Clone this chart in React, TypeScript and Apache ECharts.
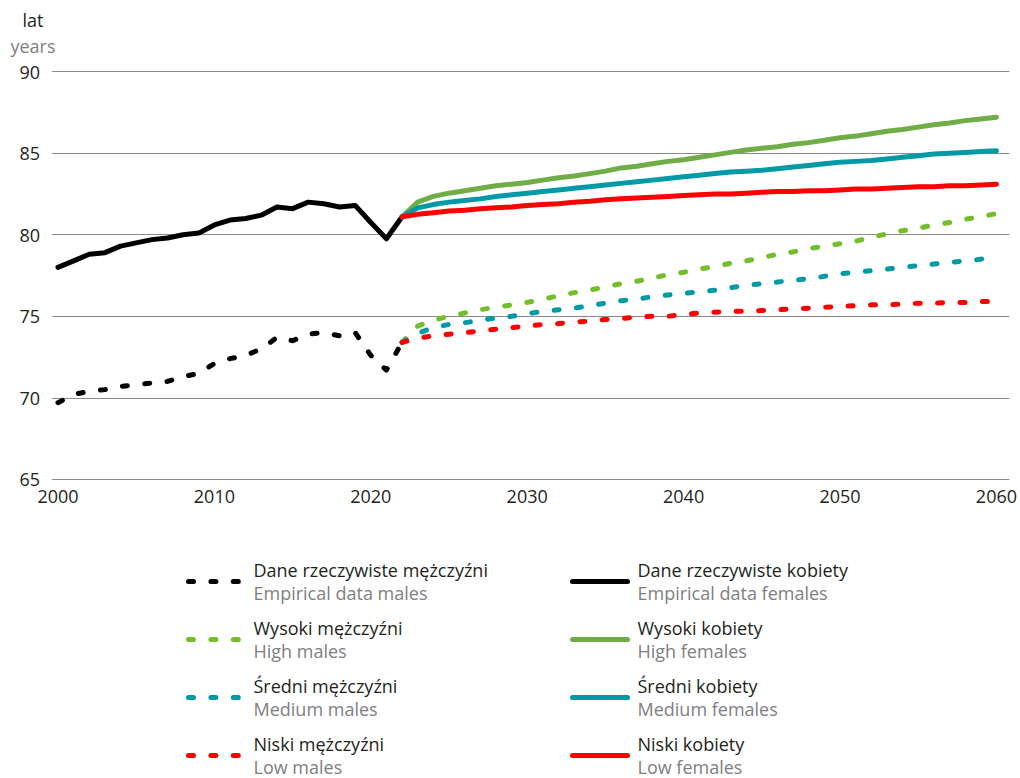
import React, { useEffect, useRef } from "react";
import * as echarts from "echarts";

const empYears = [2000, 2001, 2002, 2003, 2004, 2005, 2006, 2007, 2008, 2009, 2010, 2011, 2012, 2013, 2014, 2015, 2016, 2017, 2018, 2019, 2020, 2021, 2022];
const femaleEmp = [78.0, 78.4, 78.8, 78.9, 79.3, 79.5, 79.7, 79.8, 80.0, 80.1, 80.6, 80.9, 81.0, 81.2, 81.7, 81.6, 82.0, 81.9, 81.7, 81.8, 80.75, 79.75, 81.1];
const maleEmp = [69.7, 70.2, 70.4, 70.5, 70.7, 70.8, 70.9, 71.0, 71.3, 71.5, 72.1, 72.4, 72.6, 73.0, 73.7, 73.5, 73.9, 74.0, 73.8, 74.0, 72.6, 71.7, 73.4];

const projYears = [2022, 2023, 2024, 2025, 2026, 2027, 2028, 2029, 2030, 2031, 2032, 2033, 2034, 2035, 2036, 2037, 2038, 2039, 2040, 2041, 2042, 2043, 2044, 2045, 2046, 2047, 2048, 2049, 2050, 2051, 2052, 2053, 2054, 2055, 2056, 2057, 2058, 2059, 2060];
const femHigh = [81.1, 82.0, 82.35, 82.55, 82.7, 82.85, 83.0, 83.1, 83.2, 83.35, 83.5, 83.6, 83.75, 83.9, 84.1, 84.2, 84.35, 84.5, 84.6, 84.75, 84.9, 85.05, 85.2, 85.3, 85.4, 85.55, 85.65, 85.8, 85.95, 86.05, 86.2, 86.35, 86.45, 86.6, 86.75, 86.85, 87.0, 87.1, 87.2];
const femMed = [81.1, 81.65, 81.85, 82.0, 82.1, 82.2, 82.35, 82.45, 82.55, 82.65, 82.75, 82.85, 82.95, 83.05, 83.15, 83.25, 83.35, 83.45, 83.55, 83.65, 83.75, 83.85, 83.9, 83.95, 84.05, 84.15, 84.25, 84.35, 84.45, 84.5, 84.55, 84.65, 84.75, 84.85, 84.95, 85.0, 85.05, 85.1, 85.15];
const femLow = [81.1, 81.25, 81.35, 81.45, 81.5, 81.6, 81.65, 81.7, 81.8, 81.85, 81.9, 82.0, 82.05, 82.15, 82.2, 82.25, 82.3, 82.35, 82.4, 82.45, 82.5, 82.5, 82.55, 82.6, 82.65, 82.65, 82.7, 82.7, 82.75, 82.8, 82.8, 82.85, 82.9, 82.95, 82.95, 83.0, 83.0, 83.05, 83.1];
const maleHigh = [73.4, 74.4, 74.75, 75.0, 75.2, 75.4, 75.55, 75.7, 75.85, 76.05, 76.25, 76.45, 76.6, 76.8, 77.0, 77.15, 77.35, 77.55, 77.7, 77.9, 78.05, 78.25, 78.4, 78.6, 78.8, 78.95, 79.15, 79.3, 79.45, 79.6, 79.85, 80.05, 80.25, 80.4, 80.6, 80.75, 80.95, 81.1, 81.3];
const maleMed = [73.4, 73.95, 74.3, 74.5, 74.6, 74.75, 74.9, 75.0, 75.15, 75.3, 75.4, 75.5, 75.65, 75.8, 75.95, 76.05, 76.2, 76.3, 76.4, 76.5, 76.6, 76.75, 76.9, 77.0, 77.1, 77.2, 77.3, 77.45, 77.6, 77.7, 77.8, 77.9, 78.0, 78.1, 78.2, 78.3, 78.4, 78.5, 78.6];
const maleLow = [73.4, 73.65, 73.8, 73.9, 74.0, 74.1, 74.2, 74.3, 74.4, 74.5, 74.55, 74.65, 74.7, 74.8, 74.85, 74.95, 75.0, 75.0, 75.1, 75.2, 75.25, 75.3, 75.3, 75.35, 75.4, 75.45, 75.5, 75.55, 75.6, 75.65, 75.7, 75.7, 75.75, 75.8, 75.8, 75.85, 75.85, 75.9, 75.9];

const xTickLabels = [2000, 2010, 2020, 2030, 2040, 2050, 2060];
const yTicks = [65, 70, 75, 80, 85, 90];

const namesPl = [
  "Dane rzeczywiste mężczyźni",
  "Wysoki mężczyźni",
  "Średni mężczyźni",
  "Niski mężczyźni",
  "Dane rzeczywiste kobiety",
  "Wysoki kobiety",
  "Średni kobiety",
  "Niski kobiety",
];
const namesEn = [
  "Empirical data males",
  "High males",
  "Medium males",
  "Low males",
  "Empirical data females",
  "High females",
  "Medium females",
  "Low females",
];

const FONT = "Open Sans";

function zip(xs: number[], ys: number[]) {
  return xs.map((x, i) => [x, ys[i]]);
}

export default function App() {
  const ref = useRef<HTMLDivElement>(null);
  useEffect(() => {
    document.body.style.margin = "0";
    if (!ref.current) return;
    const chart = echarts.init(ref.current, null, { renderer: "svg" });

    const dash = [5, 17.4];
    const mk = (name: string, xs: number[], ys: number[], color: string, dashed: boolean, z: number) => ({
      name,
      type: "line",
      data: zip(xs, ys),
      symbol: "none",
      z,
      lineStyle: {
        color,
        width: 5,
        type: dashed ? dash : "solid",
        cap: "round",
        join: "round",
      },
      itemStyle: { color },
      emphasis: { disabled: true },
    });

    const series = [
      mk(namesPl[0], empYears, maleEmp, "#000000", true, 2),
      mk(namesPl[1], projYears, maleHigh, "#72BF2A", true, 3),
      mk(namesPl[2], projYears, maleMed, "#009AA6", true, 4),
      mk(namesPl[3], projYears, maleLow, "#FF0000", true, 5),
      mk(namesPl[4], empYears, femaleEmp, "#000000", false, 2),
      mk(namesPl[5], projYears, femHigh, "#70AD47", false, 3),
      mk(namesPl[6], projYears, femMed, "#009AA6", false, 4),
      mk(namesPl[7], projYears, femLow, "#FF0000", false, 5),
    ];

    const legendBase = {
      orient: "vertical",
      padding: 0,
      itemWidth: 55,
      itemHeight: 14,
      selectedMode: false,
      itemStyle: { opacity: 0, borderWidth: 0 },
      lineStyle: { width: 5, cap: "round", opacity: 1 },
      formatter: (name: string) => {
        const i = namesPl.indexOf(name);
        return `{a|${name}}\n{b|${namesEn[i]}}`;
      },
      textStyle: {
        padding: [0, 0, 0, 5],
        rich: {
          a: { fontFamily: FONT, fontSize: 18, color: "#231f20", lineHeight: 23 },
          b: { fontFamily: FONT, fontSize: 18, color: "#808080", lineHeight: 23 },
        },
      },
    };

    const legends = namesPl.map((n, i) => ({
      ...legendBase,
      left: i < 4 ? 186 : 570,
      top: 561 + (i % 4) * 58,
      data: [n],
    }));

    chart.setOption({
      animation: false,
      textStyle: { fontFamily: FONT },
      grid: { left: 52, right: 7, top: 71.7, bottom: 298.7, containLabel: false },
      xAxis: {
        type: "value",
        min: 1999.618,
        max: 2060.83,
        axisLine: { show: false },
        axisTick: { show: false },
        splitLine: { show: false },
        axisLabel: {
          customValues: xTickLabels,
          formatter: (v: number) => String(v),
          fontFamily: FONT,
          fontSize: 18,
          color: "#231f20",
          margin: 8,
        },
      },
      yAxis: {
        type: "value",
        min: yTicks[0],
        max: yTicks[yTicks.length - 1],
        interval: 5,
        name: "{a|lat}\n{b|years}",
        nameLocation: "end",
        nameGap: 13,
        nameTextStyle: {
          align: "center",
          padding: [0, 38, 0, 0],
          rich: {
            a: { fontFamily: FONT, fontSize: 18, color: "#231f20", lineHeight: 26 },
            b: { fontFamily: FONT, fontSize: 18, color: "#808080", lineHeight: 26 },
          },
        },
        axisLine: { show: false },
        axisTick: { show: false },
        splitLine: { show: true, lineStyle: { color: "#8a8a8a", width: 1 } },
        axisLabel: {
          fontFamily: FONT,
          fontSize: 18,
          color: "#231f20",
          margin: 12,
        },
      },
      legend: legends,
      series,
    });

    return () => chart.dispose();
  }, []);

  return <div ref={ref} style={{ width: 1020, height: 778 }} />;
}
